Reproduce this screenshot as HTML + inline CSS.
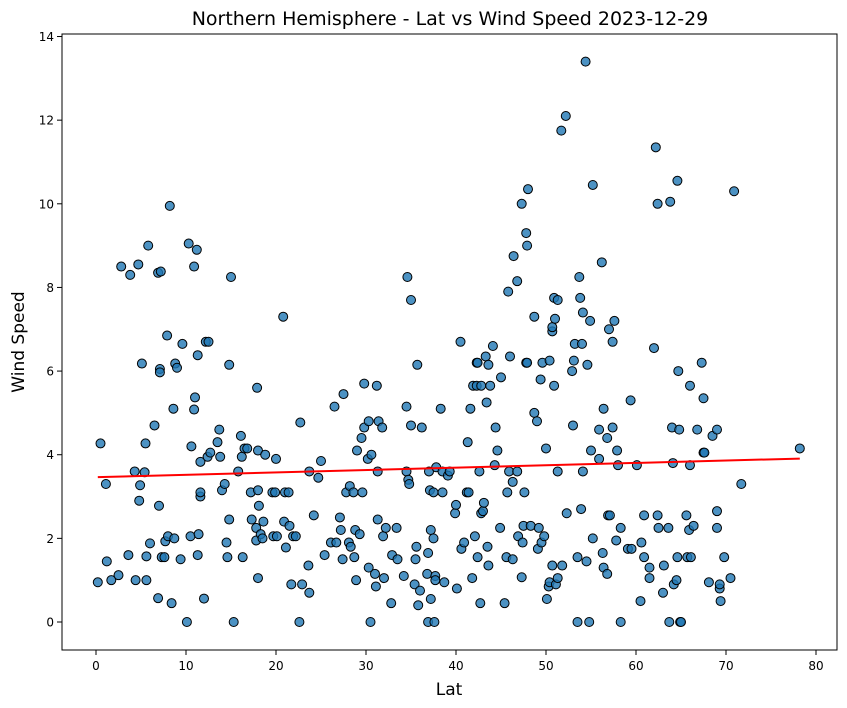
<!DOCTYPE html>
<html><head><meta charset="utf-8"><style>
body{margin:0;background:#fff;}
svg{display:block;font-family:"DejaVu Sans","Liberation Sans",sans-serif;}
</style></head><body>
<svg id="chart" width="847" height="708">
<text x="450" y="25" font-size="19" text-anchor="middle">Northern Hemisphere - Lat vs Wind Speed 2023-12-29</text>
<text x="449" y="695" font-size="17" text-anchor="middle">Lat</text>
<text transform="translate(24,342) rotate(-90)" font-size="17" text-anchor="middle">Wind Speed</text>
<g id="xticks"></g>
<g id="yticks"></g>
<g id="points"></g>
<g id="reg"></g>
<rect x="62" y="34" width="775" height="616" fill="none" stroke="#000" stroke-width="1"/>
</svg>
<script>
const xTicks=[0,10,20,30,40,50,60,70,80];
const yTicks=[0,2,4,6,8,10,12,14];
const lats=[0.2,0.5,1.1,1.2,1.7,2.5,2.8,3.6,3.8,4.3,4.4,4.7,4.8,4.9,5.1,5.4,5.5,5.6,5.6,5.8,6.0,6.5,6.9,6.9,7.0,7.1,7.1,7.2,7.3,7.6,7.7,7.9,8.0,8.2,8.4,8.6,8.7,8.8,9.0,9.4,9.6,10.1,10.3,10.5,10.6,10.9,10.9,11.0,11.2,11.3,11.3,11.4,11.6,11.6,11.6,12.0,12.2,12.4,12.5,12.7,13.5,13.7,13.8,14.0,14.3,14.5,14.6,14.8,14.8,15.0,15.3,15.8,16.1,16.2,16.3,16.5,16.8,17.2,17.3,17.8,17.8,17.9,18.0,18.0,18.0,18.1,18.3,18.5,18.6,18.8,19.6,19.7,19.9,20.0,20.1,20.8,20.9,21.0,21.1,21.4,21.5,21.7,21.9,22.2,22.6,22.7,22.9,23.6,23.7,23.7,24.2,24.7,25.0,25.4,26.1,26.5,26.7,27.1,27.2,27.4,27.5,27.8,28.1,28.2,28.3,28.6,28.7,28.8,28.9,29.0,29.3,29.5,29.6,29.8,29.8,30.2,30.3,30.3,30.5,30.6,31.0,31.1,31.2,31.3,31.3,31.4,31.8,31.9,32.0,32.2,32.8,32.9,33.4,33.5,34.2,34.5,34.5,34.6,34.7,34.8,35.0,35.0,35.4,35.5,35.6,35.7,35.8,36.0,36.2,36.8,36.9,36.9,37.0,37.1,37.2,37.2,37.5,37.5,37.6,37.7,37.7,37.8,38.3,38.5,38.5,38.7,39.1,39.3,39.9,40.0,40.1,40.5,40.6,40.9,41.2,41.3,41.4,41.6,41.8,41.9,42.1,42.3,42.3,42.4,42.4,42.6,42.7,42.8,42.8,43.0,43.1,43.3,43.4,43.5,43.6,43.6,43.8,44.1,44.3,44.4,44.6,44.9,45.0,45.4,45.6,45.7,45.8,46.0,45.9,46.3,46.3,46.4,46.8,46.8,46.9,47.3,47.3,47.4,47.5,47.6,47.8,47.8,47.9,47.9,48.0,48.3,48.7,48.7,49.0,49.1,49.2,49.4,49.5,49.6,49.8,50.0,50.1,50.3,50.4,50.4,50.7,50.7,50.7,50.9,50.9,51.0,51.1,51.3,51.3,51.3,51.7,51.8,52.2,52.3,52.9,53.0,53.1,53.2,53.5,53.5,53.7,53.8,53.9,54.0,54.1,54.1,54.4,54.5,54.6,54.8,54.9,55.0,55.2,55.2,55.9,55.9,56.2,56.3,56.4,56.4,56.8,56.8,56.9,57.0,57.1,57.4,57.4,57.6,57.8,57.9,58.0,58.3,58.3,59.1,59.4,59.5,60.1,60.5,60.6,60.9,60.9,61.5,61.5,62.0,62.2,62.4,62.4,62.5,63.0,63.1,63.6,63.7,63.8,64.0,64.1,64.2,64.5,64.6,64.6,64.7,64.8,64.9,65.0,65.6,65.7,65.9,66.0,66.0,66.1,66.4,66.8,67.3,67.5,67.5,67.6,68.1,68.5,69.0,69.0,69.0,69.3,69.3,69.4,69.8,70.5,70.9,71.7,78.2];
const winds=[0.95,4.27,3.3,1.45,1.0,1.12,8.5,1.6,8.3,3.6,1.0,8.55,2.9,3.27,6.18,3.58,4.27,1.0,1.57,9.0,1.88,4.7,8.35,0.57,2.78,6.05,5.97,8.38,1.55,1.55,1.93,6.85,2.05,9.95,0.45,5.1,2.0,6.18,6.08,1.5,6.65,0,9.05,2.05,4.2,8.5,5.08,5.37,8.9,6.38,1.6,2.1,3.0,3.1,3.83,0.56,6.7,3.95,6.7,4.05,4.3,4.6,3.95,3.15,3.3,1.9,1.55,6.15,2.45,8.25,0,3.6,4.45,3.95,1.55,4.15,4.15,3.1,2.45,2.25,1.95,5.6,1.05,4.1,3.15,2.78,2.1,2.0,2.4,4.0,3.1,2.05,3.1,3.9,2.05,7.3,2.4,3.1,1.78,3.1,2.3,0.9,2.05,2.05,0,4.77,0.9,1.35,3.6,0.7,2.55,3.45,3.85,1.6,1.9,5.15,1.9,2.5,2.2,1.5,5.45,3.1,1.9,3.25,1.8,3.1,1.55,2.2,1.0,4.1,2.1,4.4,3.1,5.7,4.65,3.9,4.8,1.3,0,4.0,1.15,0.85,5.65,2.45,3.6,4.8,4.65,2.05,1.05,2.25,0.45,1.6,2.25,1.5,1.1,5.15,3.6,8.25,3.4,3.3,7.7,4.7,0.9,1.5,1.8,6.15,0.4,0.75,4.65,1.15,0,1.65,3.6,3.15,0.55,2.2,3.1,2.0,0,1.1,1.0,3.7,5.1,3.6,3.1,0.95,3.5,3.6,2.6,2.8,0.8,6.7,1.75,1.9,3.1,4.3,3.1,5.1,1.05,5.65,2.05,5.65,6.2,1.55,6.2,3.6,0.45,2.6,5.65,2.65,2.85,6.35,5.25,1.8,6.15,1.35,5.65,6.6,3.75,4.65,4.1,2.25,5.85,0.45,1.55,3.1,7.9,6.35,3.6,3.35,1.5,8.75,3.6,8.15,2.05,1.07,10.0,1.9,2.3,3.1,6.2,9.3,6.2,9.0,10.35,2.3,5.0,7.3,4.8,1.75,2.25,5.8,1.9,6.2,2.05,4.15,0.55,0.85,0.95,6.25,1.35,6.95,7.05,7.75,5.65,7.25,0.9,7.7,1.05,3.6,11.75,1.35,12.1,2.6,6.0,4.7,6.25,6.65,0,1.55,8.25,7.75,2.7,6.65,7.4,3.6,13.4,1.45,6.15,0,7.2,4.1,10.45,2.0,4.6,3.9,8.6,1.65,5.1,1.3,4.4,1.15,2.55,7.0,2.55,4.65,6.7,7.2,1.95,4.1,3.75,2.25,0,1.75,5.3,1.75,3.75,0.5,1.9,2.55,1.55,1.3,1.05,6.55,11.35,10.0,2.55,2.25,0.7,1.35,2.25,0,10.05,4.65,3.8,0.9,1.0,10.55,1.55,6.0,4.6,0,0,2.55,1.55,2.2,5.65,3.75,1.55,2.3,4.6,6.2,5.35,4.05,4.05,0.95,4.45,4.6,2.65,2.25,0.8,0.9,0.5,1.55,1.05,10.3,3.3,4.15];
const NS='http://www.w3.org/2000/svg';
const X0=96,XS=9,Y0=622,YS=41.82;
function xs(v){return X0+v*XS;}
function ys(v){return Y0-v*YS;}
function mk(tag,attrs,parent){const e=document.createElementNS(NS,tag);for(const k in attrs)e.setAttribute(k,attrs[k]);parent.appendChild(e);return e;}
const gx=document.getElementById('xticks'),gy=document.getElementById('yticks'),gp=document.getElementById('points'),gr=document.getElementById('reg');
xTicks.forEach(t=>{
 const l=mk('line',{x1:xs(t),x2:xs(t),y1:650,y2:655,stroke:'#000'},gx);
 
 
 const tx=mk('text',{x:xs(t),y:670,'font-size':12,'text-anchor':'middle'},gx);
 tx.textContent=t;
 
 
});
yTicks.forEach(t=>{
 const l=mk('line',{x1:57,x2:62,y1:ys(t),y2:ys(t),stroke:'#000'},gy);
 
 
 const tx=mk('text',{x:54,y:ys(t)+4.5,'font-size':12,'text-anchor':'end'},gy);
 tx.textContent=t;
 
 
});
lats.forEach((la,i)=>{
 const c=mk('circle',{cx:xs(la),cy:ys(winds[i]),r:4.5,fill:'#1f77b4','fill-opacity':0.8,stroke:'#000','stroke-width':1},gp);
 
 
});
const n=lats.length;let mx=0,my=0;lats.forEach((v,i)=>{mx+=v;my+=winds[i];});mx/=n;my/=n;
let sxy=0,sxx=0;lats.forEach((v,i)=>{sxy+=(v-mx)*(winds[i]-my);sxx+=(v-mx)*(v-mx);});
const slope=sxy/sxx,icpt=my-slope*mx;
const minX=Math.min(...lats),maxX=Math.max(...lats);
const rl=mk('line',{x1:xs(minX),y1:ys(icpt+slope*minX),x2:xs(maxX),y2:ys(icpt+slope*maxX),stroke:'red','stroke-width':2},gr);


</script>
</body></html>
